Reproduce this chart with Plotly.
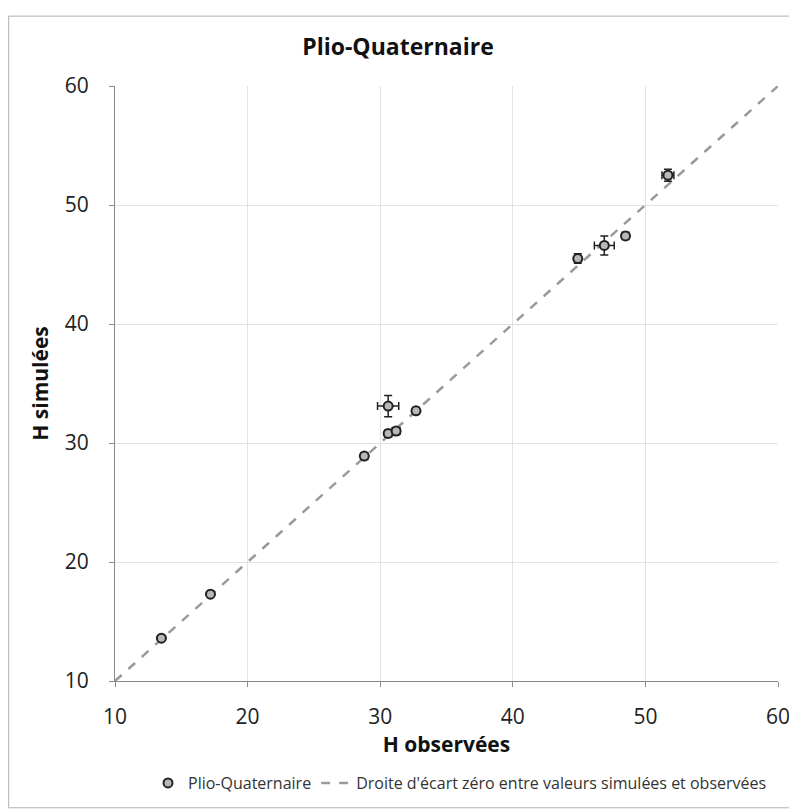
import plotly.graph_objects as go

obs = [13.5, 17.2, 28.8, 30.6, 31.2, 30.6, 32.7, 44.9, 46.9, 48.5, 51.7]
sim = [13.6, 17.3, 28.9, 30.8, 31.0, 33.1, 32.7, 45.5, 46.6, 47.4, 52.5]
obs_err = [0.0, 0.0, 0.25, 0.25, 0.3, 0.8, 0.25, 0.0, 0.75, 0.0, 0.45]
sim_err = [0.0, 0.0, 0.2, 0.25, 0.3, 0.9, 0.25, 0.4, 0.8, 0.3, 0.5]
line_x = [10, 60]
line_y = [10, 60]
ticks = [10, 20, 30, 40, 50, 60]

FONT = "Open Sans"
# the page body has an 8px margin; compensate so the plot area lands where it should
L, T, PW, PH = 107, 78, 663, 596
W, H = 789, 803

fig = go.Figure()
fig.add_trace(go.Scatter(
    x=line_x, y=line_y, mode="lines",
    name="Droite d'écart zéro entre valeurs simulées et observées",
    line=dict(color="#9a9a9a", width=2.5, dash="dash"),
))
fig.add_trace(go.Scatter(
    x=obs, y=sim, mode="markers", name="Plio-Quaternaire",
    marker=dict(symbol="circle", size=9, color="#b8b8b8",
                line=dict(color="#222222", width=2)),
    error_x=dict(type="data", array=obs_err, color="#222222", thickness=1.5, width=4),
    error_y=dict(type="data", array=sim_err, color="#222222", thickness=1.5, width=4),
))

axis_common = dict(range=[10, 60], tickvals=ticks, ticks="outside", ticklen=5,
                   tickcolor="#8a8a8a", showline=True, linecolor="#8a8a8a", linewidth=1,
                   showgrid=True, gridcolor="#e2e2e2", gridwidth=1, zeroline=False,
                   automargin=False,
                   tickfont=dict(size=21, color="#222222"))

fig.update_layout(
    width=W, height=H,
    margin=dict(l=L, r=W - L - PW, t=T, b=H - T - PH),
    paper_bgcolor="white", plot_bgcolor="white",
    font=dict(family=FONT, color="#222222"),
    title=dict(text="<b>Plio-Quaternaire</b>", x=390 / W, xanchor="center",
               y=1 - 39 / H, yanchor="middle",
               font=dict(size=23, family=FONT, color="#111111")),
    xaxis=dict(**axis_common, ticklabelstandoff=12,
               title=dict(text="<b>H observées</b>", font=dict(size=21, color="#111111"), standoff=6)),
    yaxis=dict(**axis_common, ticklabelstandoff=16,
               title=dict(text="<b>H simulées</b>", font=dict(size=21, color="#111111"), standoff=10)),
    legend=dict(orientation="h", x=(452 - L) / PW, xanchor="center", y=-(775 - (T + PH)) / PH,
                yanchor="middle", traceorder="reversed", font=dict(size=16, color="#333333"),
                tracegroupgap=0),
    showlegend=True,
    shapes=[dict(type="rect", xref="paper", yref="paper",
                 x0=-L / PW + 0.001, x1=1 + (W - 3 - L - PW) / PW, y0=-(H - 2 - T - PH) / PH,
                 y1=1 + (T - 8) / PH,
                 line=dict(color="#b0b0b0", width=1), fillcolor="rgba(0,0,0,0)",
                 layer="below")],
)

fig.write_html("out.html")
